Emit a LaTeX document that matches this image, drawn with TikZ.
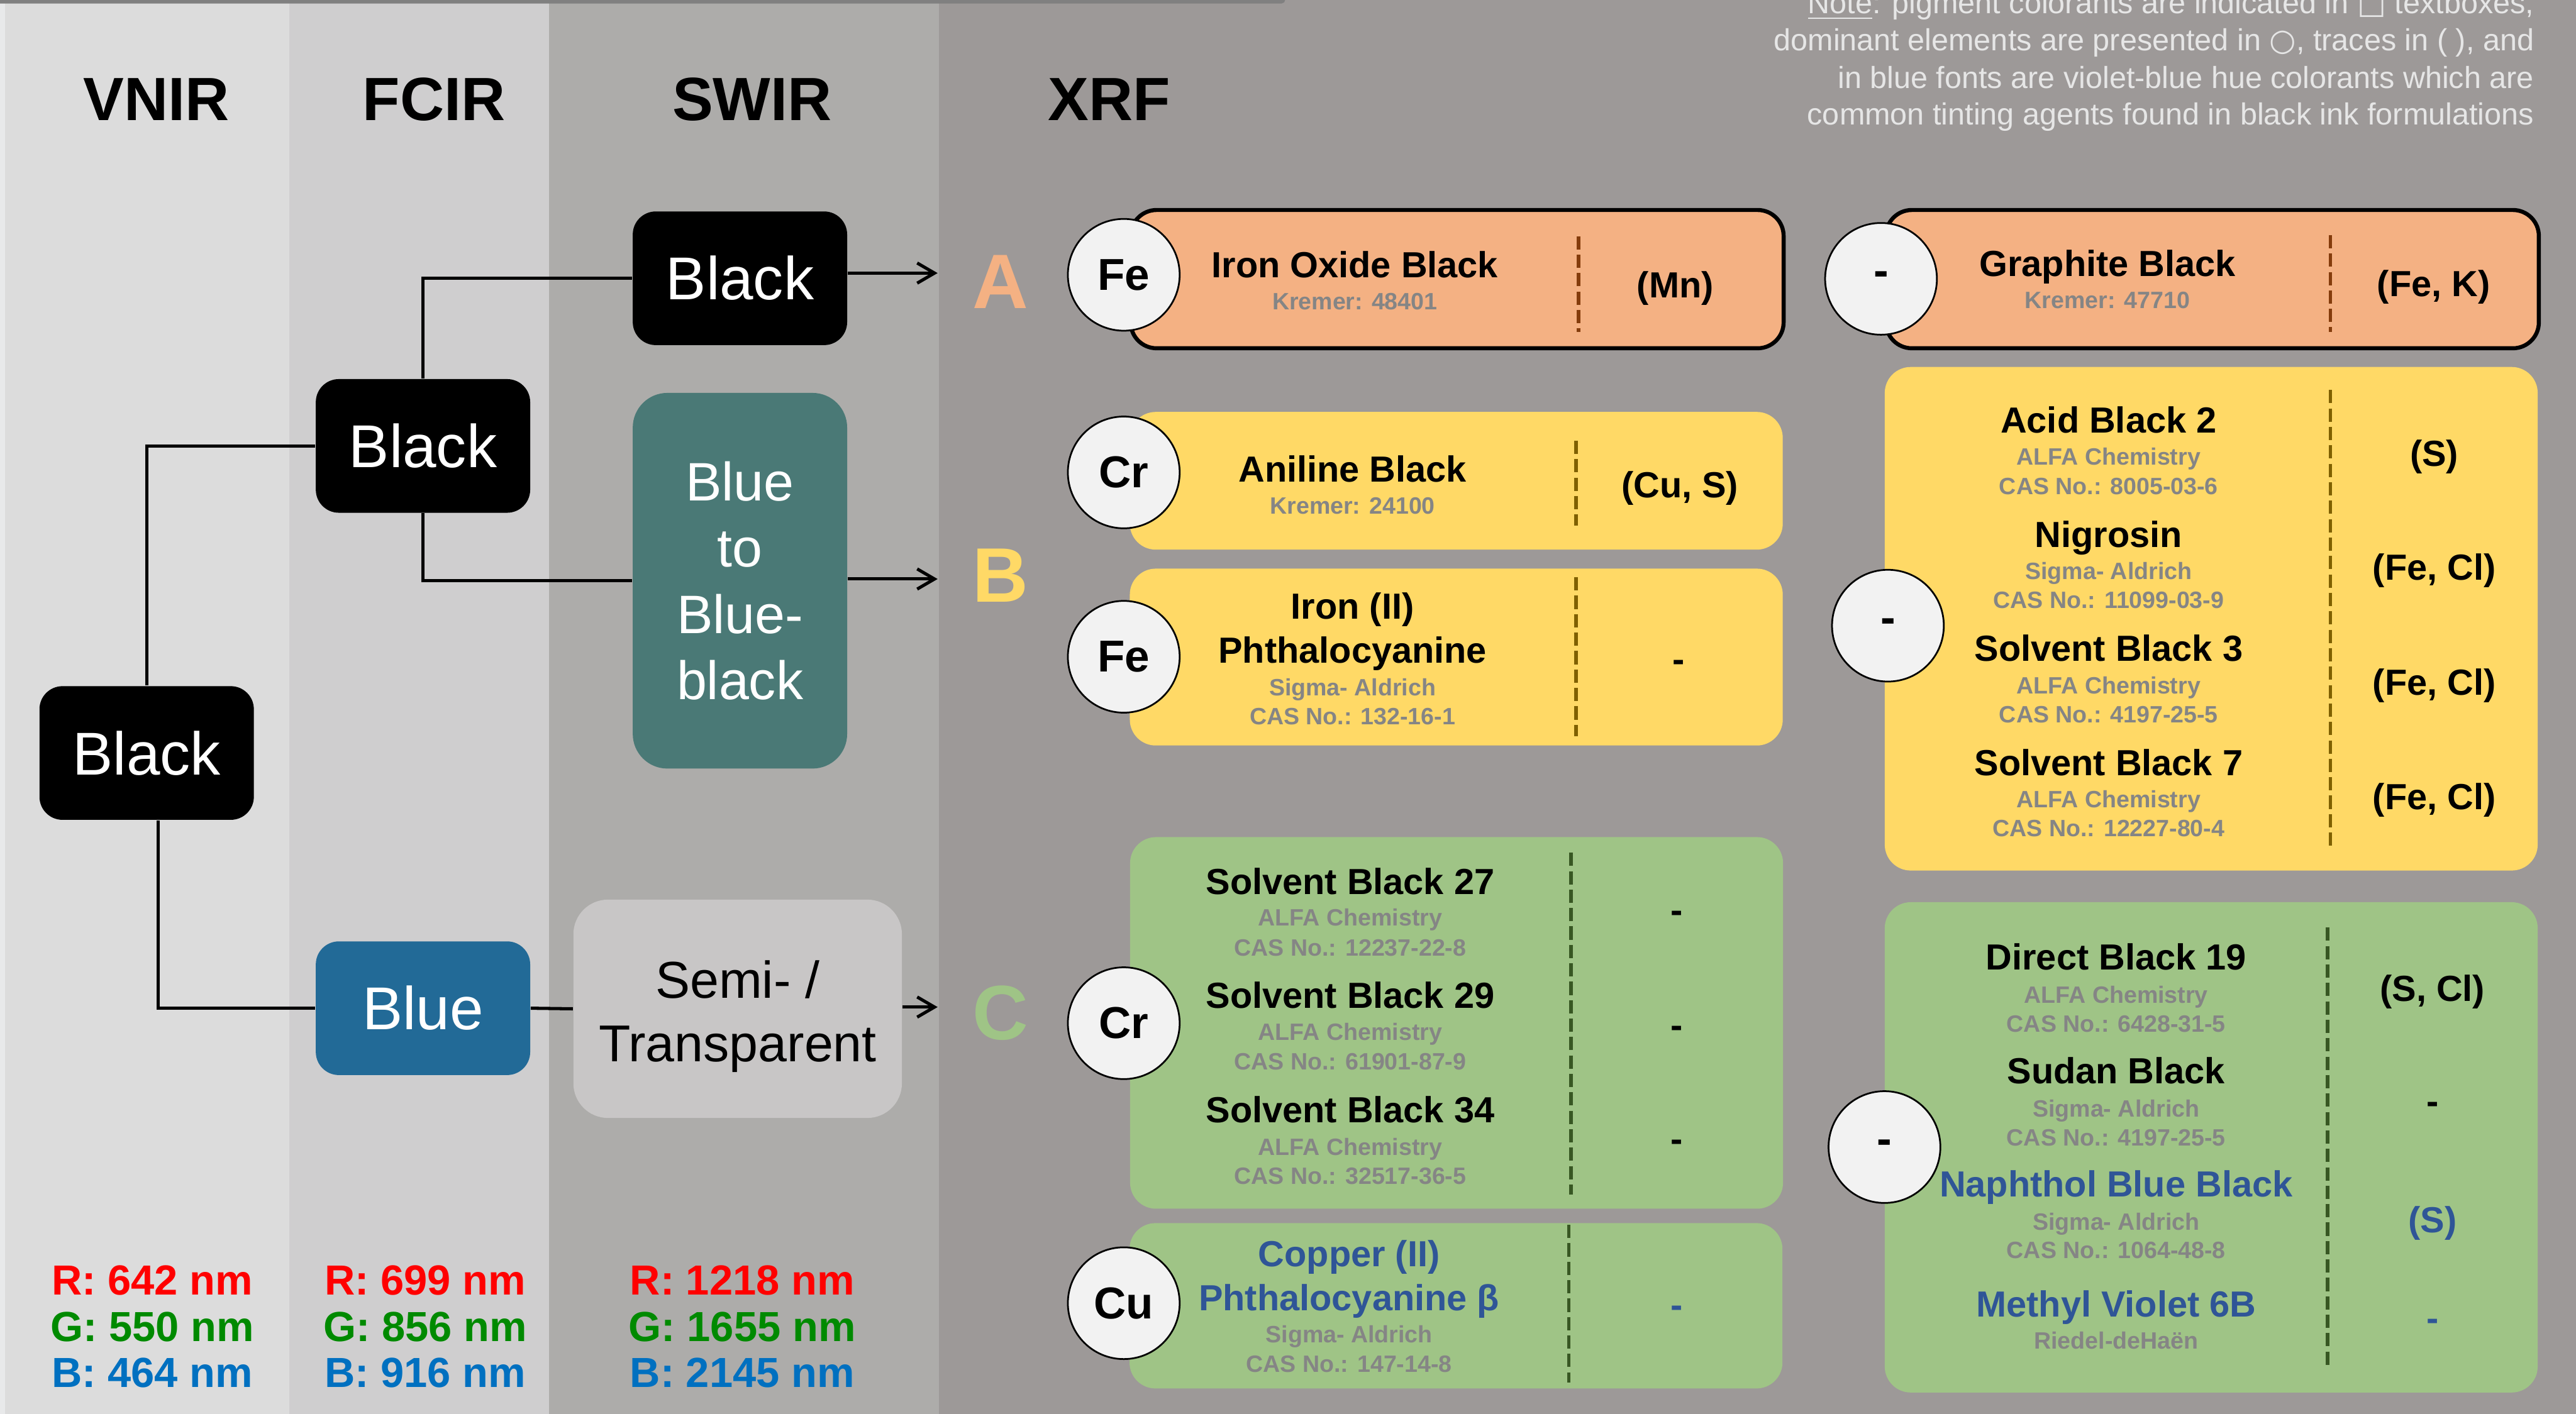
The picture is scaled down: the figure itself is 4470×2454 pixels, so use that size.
\documentclass[tikz,border=0pt]{standalone}
\usepackage{fontspec}
\setmainfont{Liberation Sans}
\newfontfamily\symfont{DejaVu Sans}
\usetikzlibrary{arrows.meta}
\definecolor{colV}{HTML}{DCDCDC}
\definecolor{colF}{HTML}{CFCECF}
\definecolor{colS}{HTML}{ADACAA}
\definecolor{colX}{HTML}{9D9998}
\definecolor{stripcol}{HTML}{E8E9EA}
\definecolor{topbar}{HTML}{808080}
\definecolor{treeblue}{HTML}{226A97}
\definecolor{tealbox}{HTML}{4A7976}
\definecolor{semibox}{HTML}{C8C6C6}
\definecolor{orangebox}{HTML}{F4B183}
\definecolor{yellowbox}{HTML}{FFD966}
\definecolor{greenbox}{HTML}{9FC486}
\definecolor{divO}{HTML}{843C0C}
\definecolor{divY}{HTML}{7F6000}
\definecolor{divG}{HTML}{385723}
\definecolor{circfill}{HTML}{F2F2F2}
\definecolor{subgray}{HTML}{858585}
\definecolor{inkblue}{HTML}{2F5597}
\definecolor{notegray}{HTML}{E6E6E6}
\definecolor{wlred}{HTML}{FF0000}
\definecolor{wlgreen}{HTML}{008A00}
\definecolor{wlblue}{HTML}{0070C0}
\tikzset{
  conn/.style={line width=1.1pt, black},
  arr/.style={conn, -{Straight Barb[length=6pt,width=7pt]}},
  treebox/.style={rounded corners=8pt, inner sep=0pt, text=white, align=center,
    font=\fontsize{21}{25}\selectfont, minimum width=74.4pt, minimum height=46.4pt},
  colhead/.style={anchor=base, inner sep=0pt, font=\fontsize{21.2}{25}\selectfont\bfseries},
  letter/.style={anchor=base, inner sep=0pt, font=\fontsize{26.8}{30}\selectfont\bfseries},
  wl/.style={anchor=base, inner sep=0pt, font=\fontsize{14.6}{17}\selectfont\bfseries},
  xbox/.style={rectangle, rounded corners=9pt, inner sep=0pt, minimum width=226.6pt},
  elem/.style={circle, draw=black, line width=0.6pt, fill=circfill, minimum size=38.8pt,
    inner sep=0pt, font=\fontsize{15.5}{18}\selectfont\bfseries},
  nm/.style={anchor=base, inner sep=0pt, font=\fontsize{12.6}{15}\selectfont\bfseries},
  subt/.style={anchor=base, inner sep=0pt, text=subgray, font=\fontsize{8.2}{10}\selectfont\bfseries},
  trc/.style={anchor=base, inner sep=0pt, font=\fontsize{12.6}{15}\selectfont\bfseries},
  divider/.style={line width=1.2pt, dash pattern=on 4.6pt off 1.8pt},
  notetext/.style={anchor=base east, inner sep=0pt, text=notegray, font=\fontsize{10.6}{13}\selectfont}
}
\begin{document}
\begin{tikzpicture}[x=0.2pt,y=-0.2pt]
\useasboundingbox (0,0) rectangle (4470,2454);
% background columns
\fill[stripcol] (0,0) rectangle (9,2454);
\fill[colV] (9,0) rectangle (502,2454);
\fill[colF] (502,0) rectangle (953,2454);
\fill[colS] (953,0) rectangle (1629,2454);
\fill[colX] (1629,0) rectangle (4470,2454);
\fill[topbar, rounded corners=1.2pt] (-40,-40) rectangle (2230,6);

% column headers
\node[colhead] (hV) at (271,209) {VNIR};
\node[colhead] (hF) at (753,209) {FCIR};
\node[colhead] (hS) at (1305,209) {SWIR};
\node[colhead] (hX) at (1925,209) {XRF};

% tree nodes
\node[treebox, fill=black] (vb) at (254.5,1307) {Black};
\node[treebox, fill=black] (fb) at (734,774) {Black};
\node[treebox, fill=treeblue] (bl) at (734,1750) {Blue};
\node[treebox, fill=black] (sb) at (1284,483) {Black};
\node[treebox, fill=tealbox, rounded corners=12pt, minimum height=130.4pt,
  font=\fontsize{18.8}{23}\selectfont] (bb) at (1284,1008) {Blue\\to\\Blue-\\black};
\node[treebox, fill=semibox, rounded corners=12pt, minimum width=114pt,
  minimum height=75.8pt] (semi) at (1280,1751) {};
\node[inner sep=0pt, align=center, font=\fontsize{18}{22}\selectfont] (semiT) at (1280,1764) {Semi- /\\Transparent};

% group letters
\node[letter, text=orangebox] (LA) at (1736,535) {A};
\node[letter, text=yellowbox] (LB) at (1736,1045) {B};
\node[letter, text=greenbox] (LC) at (1736,1805) {C};

% connectors
\coordinate (tA) at (1627,474);
\coordinate (tB) at (1627,1005);
\coordinate (tC) at (1627,1748);
\draw[conn] (vb.north) |- (fb.west);
\draw[conn] ([xshift=3.9pt]vb.south) |- (bl.west);
\draw[conn] (fb.north) |- (sb.west);
\draw[conn] (fb.south) |- (bb.west);
\draw[conn] (bl.east) -- (semi.west);
\draw[arr] (sb.east |- tA) -- (tA);
\draw[arr] (bb.east |- tB) -- (tB);
\draw[arr] (semi.east |- tC) -- (tC);

% XRF boxes
\node[xbox, fill=orangebox, draw=black, line width=1.4pt, minimum height=48pt] (boxA1) at (2528.5,484.5) {};
\node[xbox, fill=orangebox, draw=black, line width=1.4pt, minimum height=48pt] (boxA2) at (3839,484.5) {};
\node[xbox, fill=yellowbox, minimum height=47.8pt] (boxB1) at (2527,834.5) {};
\node[xbox, fill=yellowbox, minimum height=61.4pt] (boxB2) at (2527,1140.5) {};
\node[xbox, fill=yellowbox, minimum height=174.8pt] (boxB3) at (3837,1074) {};
\node[xbox, fill=greenbox, minimum height=129pt] (boxC1) at (2527.5,1775.5) {};
\node[xbox, fill=greenbox, minimum height=57.4pt] (boxC2) at (2526.5,2266.5) {};
\node[xbox, fill=greenbox, minimum height=170.2pt] (boxC3) at (3837,1991.5) {};

% dividers
\draw[divider, divO] (2739,410) -- (2739,576);
\draw[divider, divO] (4044,408) -- (4044,576);
\draw[divider, divY] (2735,765) -- (2735,912);
\draw[divider, divY] (2735,1002) -- (2735,1278);
\draw[divider, divY] (4044,677) -- (4044,1470);
\draw[divider, divG] (2726,1480) -- (2726,2074);
\draw[divider, divG] (2722,2126) -- (2722,2400);
\draw[divider, divG] (4039,1610) -- (4039,2371);

% element circles
\node[elem] (cA1) at (1950,477) {Fe};
\node[elem] (cA2) at (3264,484) {-};
\node[elem] (cB1) at (1950,820) {Cr};
\node[elem] (cB2) at (1950,1140) {Fe};
\node[elem] (cB3) at (3276,1086) {-};
\node[elem] (cC1) at (1950,1776) {Cr};
\node[elem] (cC2) at (1950,2262) {Cu};
\node[elem] (cC3) at (3270,1991) {-};

% row A texts
\node[nm] (tA1n) at (2351,482) {Iron Oxide Black};
\node[subt] (tA1s) at (2351,537) {Kremer: 48401};
\node[trc] (tA1t) at (2907,517) {(Mn)};
\node[nm] (tA2n) at (3657,480) {Graphite Black};
\node[subt] (tA2s) at (3657,535) {Kremer: 47710};
\node[trc] (tA2t) at (4223,515) {(Fe, K)};

% row B texts
\node[nm] (tB1n) at (2347,837) {Aniline Black};
\node[subt] (tB1s) at (2347,892) {Kremer: 24100};
\node[trc] (tB1t) at (2915,864) {(Cu, S)};
\node[nm] (tB2n) at (2347,1074) {Iron (II)};
\node[nm] (tB2m) at (2347,1151) {Phthalocyanine};
\node[subt] (tB2s) at (2347,1207) {Sigma- Aldrich};
\node[subt] (tB2c) at (2347,1258) {CAS No.: 132-16-1};
\node[trc] (tB2t) at (2913,1166) {-};

\node[nm] (tB3n1) at (3659,751) {Acid Black 2};
\node[subt] (tB3s1) at (3659,807) {ALFA Chemistry};
\node[subt] (tB3c1) at (3659,858) {CAS No.: 8005-03-6};
\node[nm] (tB3n2) at (3659,950) {Nigrosin};
\node[subt] (tB3s2) at (3659,1006) {Sigma- Aldrich};
\node[subt] (tB3c2) at (3659,1056) {CAS No.: 11099-03-9};
\node[nm] (tB3n3) at (3659,1148) {Solvent Black 3};
\node[subt] (tB3s3) at (3659,1204) {ALFA Chemistry};
\node[subt] (tB3c3) at (3659,1254) {CAS No.: 4197-25-5};
\node[nm] (tB3n4) at (3659,1346) {Solvent Black 7};
\node[subt] (tB3s4) at (3659,1402) {ALFA Chemistry};
\node[subt] (tB3c4) at (3659,1452) {CAS No.: 12227-80-4};
\node[trc] (tB3t1) at (4224,809) {(S)};
\node[trc] (tB3t2) at (4224,1007) {(Fe, Cl)};
\node[trc] (tB3t3) at (4224,1206) {(Fe, Cl)};
\node[trc] (tB3t4) at (4224,1405) {(Fe, Cl)};

% row C texts
\node[nm] (tC1n1) at (2343,1552) {Solvent Black 27};
\node[subt] (tC1s1) at (2343,1607) {ALFA Chemistry};
\node[subt] (tC1c1) at (2343,1659) {CAS No.: 12237-22-8};
\node[nm] (tC1n2) at (2343,1750) {Solvent Black 29};
\node[subt] (tC1s2) at (2343,1806) {ALFA Chemistry};
\node[subt] (tC1c2) at (2343,1857) {CAS No.: 61901-87-9};
\node[nm] (tC1n3) at (2343,1949) {Solvent Black 34};
\node[subt] (tC1s3) at (2343,2005) {ALFA Chemistry};
\node[subt] (tC1c3) at (2343,2056) {CAS No.: 32517-36-5};
\node[trc] (tC1t1) at (2909,1602) {-};
\node[trc] (tC1t2) at (2909,1801) {-};
\node[trc] (tC1t3) at (2909,1999) {-};

\node[nm, text=inkblue] (tC2n) at (2341,2198) {Copper (II)};
\node[nm, text=inkblue] (tC2m) at (2341,2275) {Phthalocyanine β};
\node[subt] (tC2s) at (2341,2330) {Sigma- Aldrich};
\node[subt] (tC2c) at (2341,2382) {CAS No.: 147-14-8};
\node[trc, text=inkblue] (tC2t) at (2909,2287) {-};

\node[nm] (tC3n1) at (3672,1683) {Direct Black 19};
\node[subt] (tC3s1) at (3672,1741) {ALFA Chemistry};
\node[subt] (tC3c1) at (3672,1791) {CAS No.: 6428-31-5};
\node[nm] (tC3n2) at (3672,1881) {Sudan Black};
\node[subt] (tC3s2) at (3672,1939) {Sigma- Aldrich};
\node[subt] (tC3c2) at (3672,1989) {CAS No.: 4197-25-5};
\node[nm, text=inkblue] (tC3n3) at (3672,2077) {Naphthol Blue Black};
\node[subt] (tC3s3) at (3672,2135) {Sigma- Aldrich};
\node[subt] (tC3c3) at (3672,2184) {CAS No.: 1064-48-8};
\node[nm, text=inkblue] (tC3n4) at (3672,2286) {Methyl Violet 6B};
\node[subt] (tC3s4) at (3672,2341) {Riedel-deHaën};
\node[trc] (tC3t1) at (4221,1738) {(S, Cl)};
\node[trc] (tC3t2) at (4221,1933) {-};
\node[trc, text=inkblue] (tC3t3) at (4221,2140) {(S)};
\node[trc, text=inkblue] (tC3t4) at (4221,2310) {-};

% wavelengths
\node[wl, text=wlred] (wV1) at (264,2248) {R: 642 nm};
\node[wl, text=wlgreen] (wV2) at (264,2328) {G: 550 nm};
\node[wl, text=wlblue] (wV3) at (264,2408) {B: 464 nm};
\node[wl, text=wlred] (wF1) at (738,2248) {R: 699 nm};
\node[wl, text=wlgreen] (wF2) at (738,2328) {G: 856 nm};
\node[wl, text=wlblue] (wF3) at (738,2408) {B: 916 nm};
\node[wl, text=wlred] (wS1) at (1288,2248) {R: 1218 nm};
\node[wl, text=wlgreen] (wS2) at (1288,2328) {G: 1655 nm};
\node[wl, text=wlblue] (wS3) at (1288,2408) {B: 2145 nm};

% note
\node[notetext] (note1) at (4398,24) {\underline{Note}: pigment colorants are indicated in {\symfont □} textboxes,};
\node[notetext] (note2) at (4398,88) {dominant elements are presented in {\symfont ○}, traces in ( ), and};
\node[notetext] (note3) at (4398,153) {in blue fonts are violet-blue hue colorants which are};
\node[notetext] (note4) at (4398,217) {common tinting agents found in black ink formulations};
\end{tikzpicture}
\end{document}
